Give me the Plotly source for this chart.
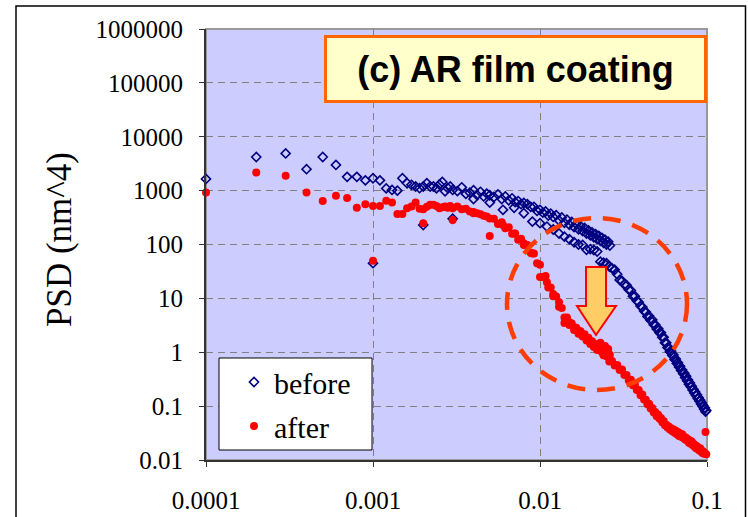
import plotly.graph_objects as go

# ---------------- data ----------------
freq_fine = [0.0001, 0.0002, 0.0003, 0.0004, 0.0005, 0.0006, 0.0007, 0.0008, 0.0009, 0.0010,
             0.0011, 0.0012, 0.0013, 0.0014, 0.0015, 0.0016, 0.0017, 0.0018, 0.0019, 0.0020,
             0.0021, 0.0022, 0.0023, 0.0024, 0.0025, 0.0026, 0.0027, 0.0028, 0.0029, 0.0030,
             0.0032, 0.0034, 0.0036, 0.0038, 0.0040, 0.0042, 0.0044, 0.0046, 0.0048, 0.0050,
             0.0053, 0.0056, 0.0059, 0.0062, 0.0065, 0.0068, 0.0071, 0.0074, 0.0077, 0.0080,
             0.0084, 0.0088, 0.0092, 0.0096, 0.0100, 0.0104, 0.0108, 0.0112, 0.0116, 0.0120,
             0.0125, 0.0130, 0.0135, 0.0140, 0.0145, 0.0150, 0.0155, 0.0160, 0.0165, 0.0170,
             0.0175, 0.0180, 0.0185, 0.0190, 0.0195, 0.0200, 0.0205, 0.0210, 0.0215, 0.0220,
             0.0225, 0.0230, 0.0235, 0.0240, 0.0245, 0.0250, 0.0256, 0.0262]

freq_coarse = [0.001, 0.002, 0.003, 0.004, 0.005, 0.006, 0.007, 0.008, 0.009, 0.010,
               0.011, 0.012, 0.013, 0.014, 0.015, 0.016, 0.017, 0.018, 0.019, 0.020,
               0.021, 0.022, 0.023, 0.024, 0.025, 0.026, 0.027, 0.028, 0.029, 0.030,
               0.031, 0.032, 0.033, 0.034, 0.035, 0.036, 0.037, 0.038, 0.039, 0.040,
               0.041, 0.042, 0.043, 0.044, 0.045, 0.046, 0.047, 0.048, 0.049, 0.050,
               0.051, 0.052, 0.053, 0.054, 0.055, 0.056, 0.057, 0.058, 0.059, 0.060,
               0.061, 0.062, 0.063, 0.064, 0.065, 0.066, 0.067, 0.068, 0.069, 0.070,
               0.071, 0.072, 0.073, 0.074, 0.075, 0.076, 0.077, 0.078, 0.079, 0.080,
               0.081, 0.082, 0.083, 0.084, 0.085, 0.086, 0.087, 0.088, 0.089, 0.090,
               0.091, 0.092, 0.093, 0.094, 0.095, 0.096, 0.097, 0.098, 0.099, 0.100]

before_fine = [1650, 4200, 4900, 2500, 4200, 3000, 1800, 1800, 1550, 1700,
               1550, 1100, 1030, 1000, 1700, 1370, 1280, 1190, 1110, 1190,
               1370, 1190, 1190, 1100, 1300, 1450, 970, 1120, 1190, 1030,
               980, 1150, 870, 920, 1020, 830, 950, 780, 880, 820,
               760, 850, 700, 780, 660, 720, 610, 640, 560, 590,
               560, 500, 500, 420, 440, 390, 410, 345, 375, 325,
               350, 280, 318, 252, 290, 232, 262, 210, 240, 192,
               218, 178, 202, 160, 183, 148, 168, 136, 156, 126,
               145, 117, 133, 108, 123, 100, 113, 96]

before_coarse = [45, 230, 300, 700, 600, 440, 480, 380, 266, 249,
                 215, 190, 160, 140, 125, 110, 100, 98, 80, 82,
                 79, 74, 48, 46, 45, 39, 36, 34, 28, 22,
                 21, 18, 17.5, 14.5, 14, 11, 11, 9, 8.5, 7.2,
                 6.9, 5.8, 5.6, 4.6, 4.7, 3.9, 4.0, 3.25, 3.25, 2.7,
                 2.75, 2.3, 2.3, 1.9, 1.9, 1.5, 1.5, 1.22, 1.22, 1.02,
                 1.06, 0.87, 0.89, 0.73, 0.75, 0.62, 0.64, 0.53, 0.55, 0.46,
                 0.47, 0.40, 0.41, 0.34, 0.36, 0.295, 0.305, 0.255, 0.27, 0.23,
                 0.235, 0.2, 0.205, 0.175, 0.183, 0.157, 0.163, 0.138, 0.144, 0.124,
                 0.129, 0.11, 0.116, 0.099, 0.103, 0.088, 0.093, 0.079, 0.083, 0.075]

after_fine = [920, 2160, 1880, 920, 640, 800, 730, 480, 560, 520,
              520, 650, 600, 370, 370, 470, 505, 600, 460, 450,
              500, 545, 545, 520, 470, 490, 505, 480, 520, 470,
              505, 450, 460, 410, 400, 380, 365, 340, 330, 305,
              300, 240, 258, 200, 210, 158, 160, 122, 128, 98,
              98, 70, 68, 45, 42, 25, 26, 16, 16, 11,
              10.8, 7.0, 6.6, 4.4, 4.4, 3.2, 3.4, 2.6, 2.85, 2.2,
              2.45, 1.95, 2.15, 1.65, 1.85, 1.42, 1.6, 1.25, 1.42, 1.1,
              1.27, 1.5, 1.0, 1.15, 1.3, 0.9, 1.15, 0.9]

after_coarse = [50, 248, 286, 380, 144, 230, 160, 105, 68, 25,
                20, 12, 8.5, 3.5, 3.6, 2.9, 2.5, 2.1, 1.8, 1.5,
                1.4, 1.15, 1.1, 0.88, 0.84, 0.67, 0.69, 0.57, 0.58, 0.47,
                0.48, 0.38, 0.38, 0.3, 0.31, 0.245, 0.25, 0.2, 0.2, 0.16,
                0.165, 0.133, 0.132, 0.108, 0.111, 0.09, 0.092, 0.076, 0.078, 0.065,
                0.069, 0.058, 0.06, 0.05, 0.053, 0.044, 0.045, 0.04, 0.042, 0.037,
                0.039, 0.034, 0.037, 0.032, 0.035, 0.03, 0.033, 0.028, 0.031, 0.027,
                0.030, 0.026, 0.027, 0.024, 0.026, 0.023, 0.024, 0.021, 0.023, 0.02,
                0.022, 0.019, 0.02, 0.0178, 0.0188, 0.0165, 0.018, 0.016, 0.0165, 0.015,
                0.0165, 0.0145, 0.015, 0.0135, 0.0142, 0.013, 0.0135, 0.033, 0.0128, 0.012]

x_tick_vals = [0.0001, 0.001, 0.01, 0.1]
x_tick_text = ["0.0001", "0.001", "0.01", "0.1"]
y_tick_vals = [0.01, 0.1, 1, 10, 100, 1000, 10000, 100000, 1000000]
y_tick_text = ["0.01", "0.1", "1", "10", "100", "1000", "10000", "100000", "1000000"]

series_names = ["before", "after"]
panel_title = "(c) AR film coating"
y_title = "PSD (nm^4)"

# ---------------- figure ----------------
W, H = 748, 517
L, R, T, B = 206, 41, 29, 57
PW, PH = W - L - R, H - T - B


def px(x):
    return (x - L) / PW


def py(y):
    return (H - B - y) / PH


SERIF = "Liberation Serif, Times New Roman, serif"
SANS = "Liberation Sans, Arial, sans-serif"

fig = go.Figure()
fig.add_trace(go.Scatter(
    x=freq_fine + freq_coarse, y=before_fine + before_coarse,
    mode="markers", name=series_names[0], legendgroup="a",
    cliponaxis=False,
    marker=dict(symbol="diamond-open", size=7, color="#000080",
                line=dict(width=1.6, color="#000080")),
))
fig.add_trace(go.Scatter(
    x=freq_fine + freq_coarse, y=after_fine + after_coarse,
    mode="markers", name=series_names[1], legendgroup="b",
    cliponaxis=False,
    marker=dict(symbol="circle", size=8, color="#ff0000"),
))

grid_common = dict(showgrid=True, gridcolor="#808080", gridwidth=1, griddash="7px,5px",
                   zeroline=False, showline=True, linecolor="#333333", linewidth=2,
                   ticks="outside", ticklen=5, tickcolor="#333333", automargin=False,
                   tickfont=dict(family=SERIF, size=25, color="black"))

fig.update_xaxes(type="log", range=[-4, -1], tickvals=x_tick_vals, ticktext=x_tick_text,
                 ticklabelstandoff=12, **grid_common)
fig.update_yaxes(type="log", range=[-2, 6], tickvals=y_tick_vals, ticktext=y_tick_text,
                 ticklabelstandoff=11, **grid_common)

shapes = [
    # grey plot border (top/right visible)
    dict(type="rect", xref="paper", yref="paper", x0=0, x1=1, y0=0, y1=1,
         line=dict(color="#999999", width=2), layer="below"),
    # outer chart frame
    dict(type="rect", xref="paper", yref="paper", x0=px(16), x1=px(745.5), y0=py(540), y1=py(6),
         line=dict(color="black", width=1.5), layer="above"),
    # legend box
    dict(type="rect", xref="paper", yref="paper", x0=px(219), x1=px(372), y0=py(450), y1=py(358),
         line=dict(color="black", width=1), fillcolor="white", layer="above"),
    # dashed ellipse
    dict(type="circle", xref="paper", yref="paper", x0=px(507), x1=px(687), y0=py(390), y1=py(218),
         line=dict(color="#ff3d00", width=4.5, dash="18px,12px"), layer="above"),
    # down arrow
    dict(type="path", xref="paper", yref="paper",
         path=(f"M {px(586)},{py(267)} L {px(606)},{py(267)} L {px(606)},{py(306)} "
               f"L {px(616)},{py(306)} L {px(596)},{py(335)} L {px(577)},{py(306)} "
               f"L {px(586)},{py(306)} Z"),
         fillcolor="#ffcc66", line=dict(color="#ff0000", width=2), layer="above"),
]

annotations = [
    dict(text="<b>" + panel_title + "</b>", xref="paper", yref="paper",
         x=px((324 + 707) / 2), y=py(69), xanchor="center", yanchor="middle", showarrow=False,
         font=dict(family=SANS, size=36, color="black"),
         bgcolor="#ffffcc", bordercolor="#ff6600", borderwidth=3, borderpad=0,
         width=377, height=62),
    dict(text=y_title, xref="paper", yref="paper", x=px(60), y=py(240),
         xanchor="center", yanchor="middle", showarrow=False, textangle=-90,
         font=dict(family=SERIF, size=35, color="black")),
]

fig.update_layout(
    width=W, height=H, autosize=False,
    margin=dict(l=L, r=R, t=T, b=B, pad=0),
    paper_bgcolor="white", plot_bgcolor="#ccccff",
    showlegend=True,
    legend=dict(x=px(234), y=py(356), xanchor="left", yanchor="top",
                bgcolor="rgba(0,0,0,0)", borderwidth=0,
                font=dict(family=SERIF, size=30, color="black"),
                tracegroupgap=2, itemsizing="trace"),
    shapes=shapes, annotations=annotations,
)

fig.write_html("out.html")
